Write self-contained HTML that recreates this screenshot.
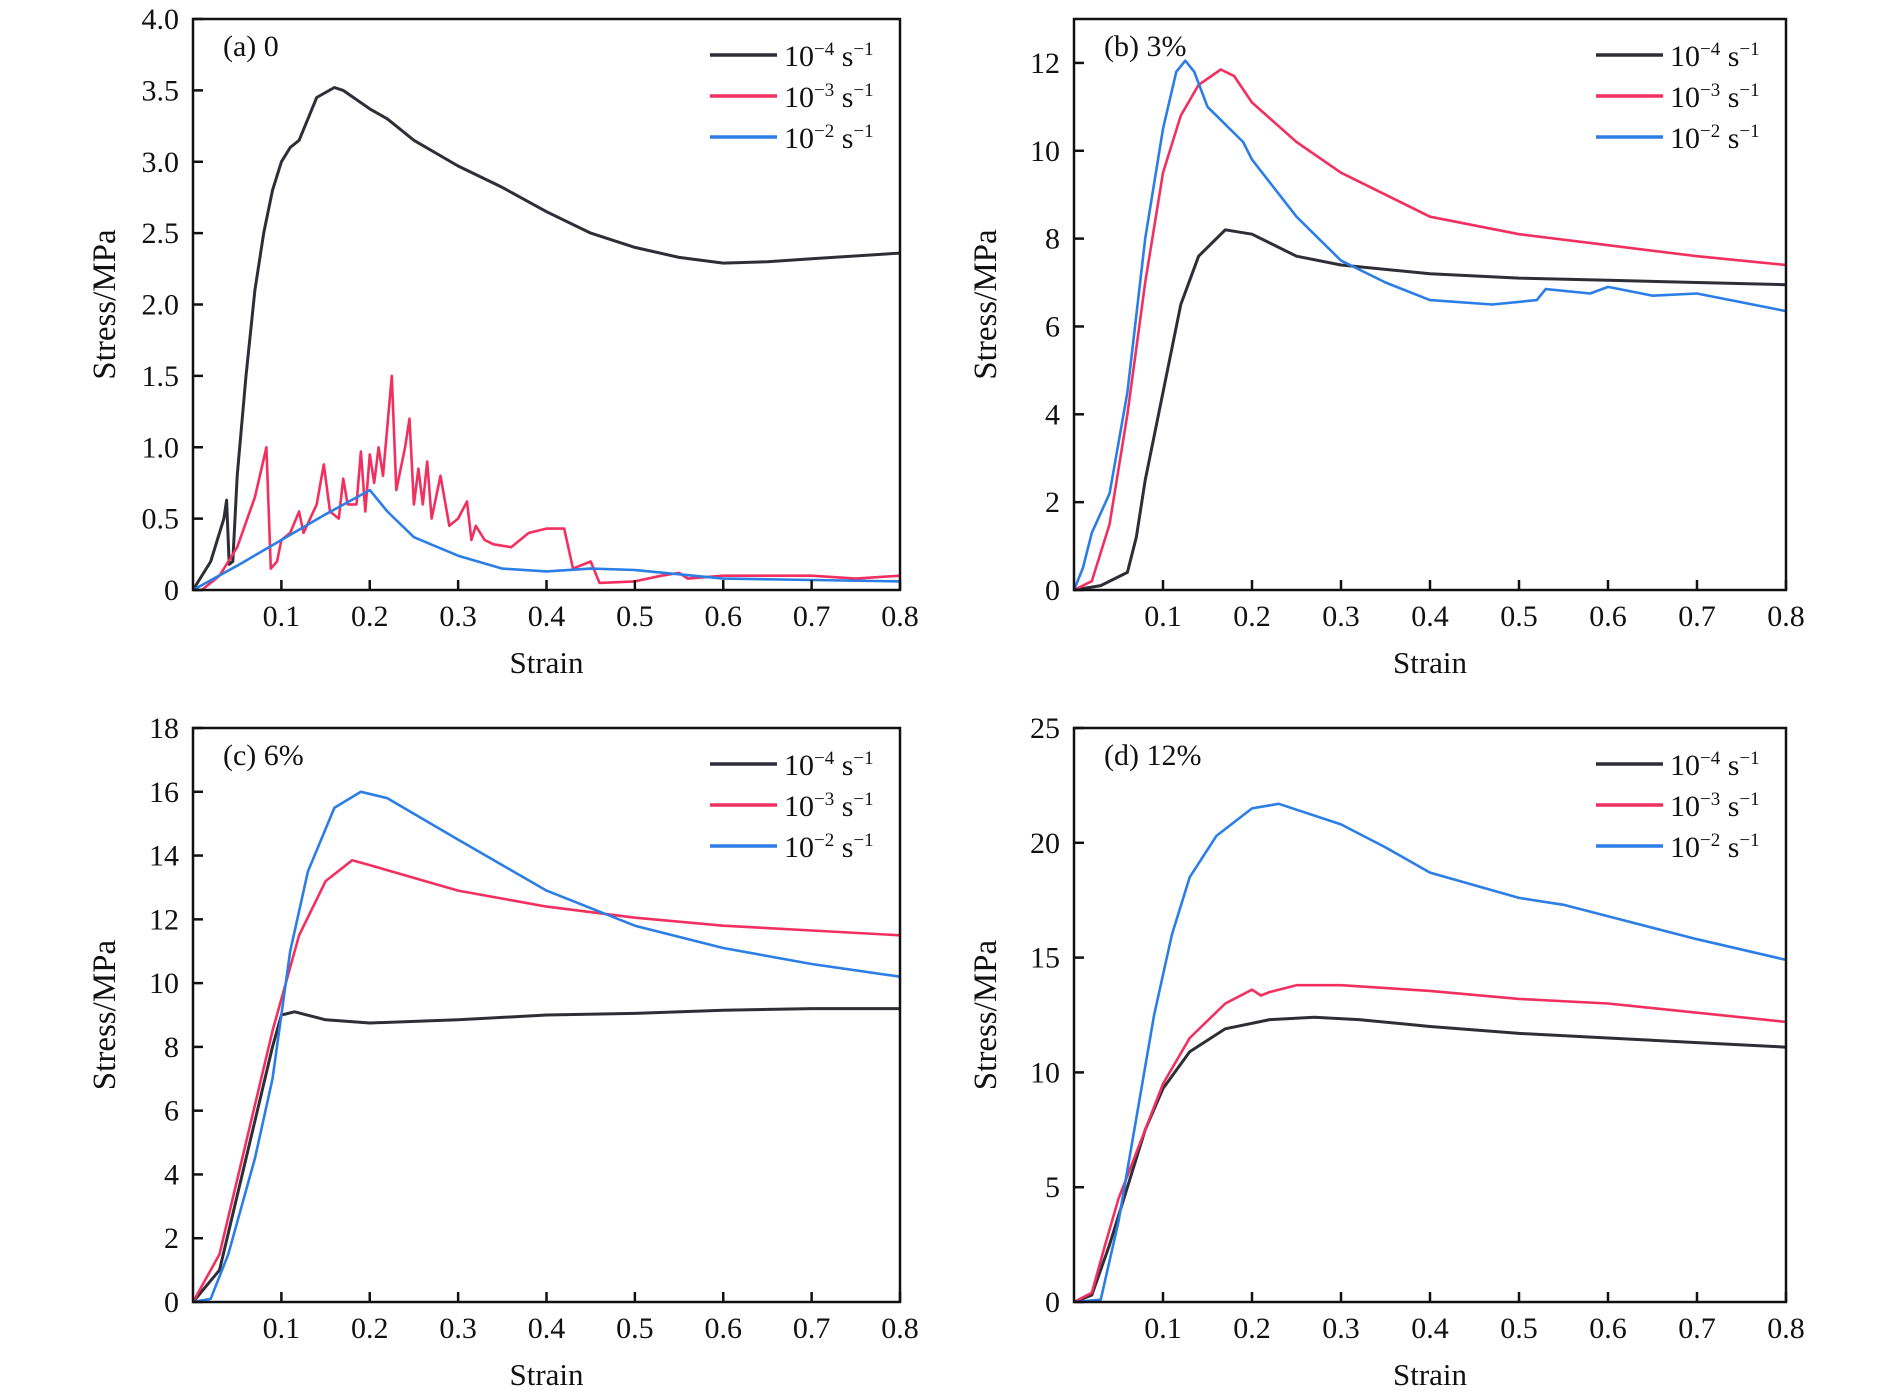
<!DOCTYPE html>
<html><head><meta charset="utf-8"><style>
html,body{margin:0;padding:0;background:#fff;}
svg{display:block;font-family:"Liberation Serif",serif;}
</style></head><body>
<svg id="fig" width="1890" height="1393" viewBox="0 0 1890 1393" xmlns="http://www.w3.org/2000/svg"></svg>
<script>
// ---- data ----
const xTicks = [0.1,0.2,0.3,0.4,0.5,0.6,0.7,0.8];
const legendLabels = ["-4","-3","-2"];
const panelLabels = ["(a) 0","(b) 3%","(c) 6%","(d) 12%"];
const yTicksA = [0,0.5,1.0,1.5,2.0,2.5,3.0,3.5,4.0];
const yTickTextA = ["0","0.5","1.0","1.5","2.0","2.5","3.0","3.5","4.0"];
const yTicksB = [0,2,4,6,8,10,12];
const yTicksC = [0,2,4,6,8,10,12,14,16,18];
const yTicksD = [0,5,10,15,20,25];
const yMaxes = [4.0,13,18,25];

const a_slow = [[0,0],[0.02,0.2],[0.035,0.5],[0.038,0.63],[0.041,0.18],[0.045,0.2],[0.05,0.8],[0.06,1.5],[0.07,2.1],[0.08,2.5],[0.09,2.8],[0.1,3.0],[0.11,3.1],[0.12,3.15],[0.13,3.3],[0.14,3.45],[0.16,3.52],[0.17,3.5],[0.2,3.37],[0.22,3.3],[0.25,3.15],[0.3,2.97],[0.35,2.82],[0.4,2.65],[0.45,2.5],[0.5,2.4],[0.55,2.33],[0.6,2.29],[0.65,2.3],[0.7,2.32],[0.8,2.36]];
const a_mid = [[0,0],[0.01,0],[0.03,0.1],[0.05,0.3],[0.07,0.65],[0.083,1.0],[0.088,0.15],[0.095,0.2],[0.1,0.35],[0.11,0.4],[0.12,0.55],[0.125,0.4],[0.14,0.6],[0.148,0.88],[0.155,0.55],[0.165,0.5],[0.17,0.78],[0.175,0.6],[0.185,0.6],[0.19,0.97],[0.195,0.55],[0.2,0.95],[0.205,0.75],[0.21,1.0],[0.215,0.8],[0.225,1.5],[0.23,0.7],[0.24,1.0],[0.245,1.2],[0.25,0.6],[0.255,0.85],[0.26,0.6],[0.265,0.9],[0.27,0.5],[0.28,0.8],[0.29,0.45],[0.3,0.5],[0.31,0.62],[0.315,0.35],[0.32,0.45],[0.33,0.35],[0.34,0.32],[0.36,0.3],[0.38,0.4],[0.4,0.43],[0.42,0.43],[0.43,0.15],[0.45,0.2],[0.46,0.05],[0.5,0.06],[0.53,0.1],[0.55,0.12],[0.56,0.08],[0.6,0.1],[0.7,0.1],[0.75,0.08],[0.8,0.1]];
const a_fast = [[0,0],[0.05,0.17],[0.1,0.35],[0.15,0.53],[0.2,0.7],[0.22,0.55],[0.25,0.37],[0.3,0.24],[0.35,0.15],[0.4,0.13],[0.45,0.15],[0.5,0.14],[0.55,0.11],[0.6,0.08],[0.7,0.07],[0.8,0.06]];

const b_slow = [[0,0],[0.03,0.1],[0.06,0.4],[0.07,1.2],[0.08,2.5],[0.1,4.5],[0.12,6.5],[0.14,7.6],[0.17,8.2],[0.2,8.1],[0.25,7.6],[0.3,7.4],[0.4,7.2],[0.5,7.1],[0.6,7.05],[0.7,7.0],[0.8,6.95]];
const b_mid = [[0,0],[0.02,0.2],[0.04,1.5],[0.06,4],[0.08,7],[0.1,9.5],[0.12,10.8],[0.14,11.5],[0.165,11.85],[0.18,11.7],[0.2,11.1],[0.25,10.2],[0.3,9.5],[0.4,8.5],[0.5,8.1],[0.6,7.85],[0.7,7.6],[0.8,7.4]];
const b_fast = [[0,0],[0.01,0.5],[0.02,1.3],[0.04,2.2],[0.06,4.5],[0.08,8],[0.1,10.5],[0.115,11.8],[0.125,12.05],[0.135,11.8],[0.15,11],[0.19,10.2],[0.2,9.8],[0.25,8.5],[0.3,7.5],[0.35,7],[0.4,6.6],[0.47,6.5],[0.52,6.6],[0.53,6.85],[0.58,6.75],[0.6,6.9],[0.65,6.7],[0.7,6.75],[0.8,6.35]];

const c_slow = [[0,0],[0.03,1],[0.06,4.5],[0.09,8],[0.1,9],[0.115,9.1],[0.15,8.85],[0.2,8.75],[0.3,8.85],[0.4,9.0],[0.5,9.05],[0.6,9.15],[0.7,9.2],[0.8,9.2]];
const c_mid = [[0,0],[0.03,1.5],[0.06,5],[0.09,8.5],[0.12,11.5],[0.15,13.2],[0.18,13.85],[0.2,13.7],[0.25,13.3],[0.3,12.9],[0.4,12.4],[0.5,12.05],[0.6,11.8],[0.7,11.65],[0.8,11.5]];
const c_fast = [[0,0],[0.02,0.1],[0.04,1.5],[0.07,4.5],[0.09,7],[0.11,11],[0.13,13.5],[0.16,15.5],[0.19,16],[0.22,15.8],[0.3,14.5],[0.4,12.9],[0.5,11.8],[0.6,11.1],[0.7,10.6],[0.8,10.2]];

const d_slow = [[0,0],[0.02,0.3],[0.04,2.5],[0.06,5],[0.08,7.5],[0.1,9.3],[0.13,10.9],[0.17,11.9],[0.22,12.3],[0.27,12.4],[0.32,12.3],[0.4,12.0],[0.5,11.7],[0.6,11.5],[0.7,11.3],[0.8,11.1]];
const d_mid = [[0,0],[0.02,0.4],[0.035,2.5],[0.05,4.5],[0.08,7.5],[0.1,9.5],[0.13,11.5],[0.17,13],[0.2,13.6],[0.21,13.35],[0.22,13.5],[0.25,13.8],[0.3,13.8],[0.4,13.55],[0.5,13.2],[0.6,13.0],[0.7,12.6],[0.8,12.2]];
const d_fast = [[0,0],[0.03,0.1],[0.05,3.5],[0.07,8],[0.09,12.5],[0.11,16],[0.13,18.5],[0.16,20.3],[0.2,21.5],[0.23,21.7],[0.3,20.8],[0.35,19.8],[0.4,18.7],[0.5,17.6],[0.55,17.3],[0.6,16.8],[0.7,15.8],[0.8,14.9]];

// ---- drawing ----
const NS="http://www.w3.org/2000/svg";
const svg=document.getElementById('fig');
const colors=["#2e2e36","#f23060","#2b7ee6"];
function mk(tag,attrs,parent){const e=document.createElementNS(NS,tag);for(const k in attrs)e.setAttribute(k,attrs[k]);(parent||svg).appendChild(e);return e;}
const boxes=[{L:193,R:900,T:19,B:590},{L:1074,R:1786,T:19,B:590},{L:193,R:900,T:728,B:1302},{L:1074,R:1786,T:728,B:1302}];
const yTickSets=[yTicksA,yTicksB,yTicksC,yTicksD];
const seriesSets=[[a_slow,a_mid,a_fast],[b_slow,b_mid,b_fast],[c_slow,c_mid,c_fast],[d_slow,d_mid,d_fast]];
const panelNames=["panel-a","panel-b","panel-c","panel-d"];
const rateNames=["slow","mid","fast"];
boxes.forEach((bx,pi)=>{
  const g=mk('g',{});
  
  
  const xs=v=>bx.L+v/0.8*(bx.R-bx.L);
  const ys=v=>bx.B-v/yMaxes[pi]*(bx.B-bx.T);
  seriesSets[pi].forEach((s,si)=>{
    const p=mk('polyline',{points:s.map(d=>xs(d[0]).toFixed(1)+','+ys(d[1]).toFixed(1)).join(' '),fill:'none',stroke:colors[si],'stroke-width':si==0?3:2.6,'stroke-linejoin':'round'},g);
    
    
  });
  const fr=mk('rect',{x:bx.L,y:bx.T,width:bx.R-bx.L,height:bx.B-bx.T,fill:'none',stroke:'#111','stroke-width':2.5},g);
  
  
  xTicks.forEach(t=>{
    const x=xs(t);
    mk('line',{x1:x,x2:x,y1:bx.B,y2:bx.B-10,stroke:'#111','stroke-width':2.5},g);
    const tx=mk('text',{x:x,y:bx.B+36,'text-anchor':'middle','font-size':30,fill:'#111'},g);
    tx.textContent=String(t);
    
    
  });
  yTickSets[pi].forEach((t,ti)=>{
    const y=ys(t);
    mk('line',{x1:bx.L,x2:bx.L+10,y1:y,y2:y,stroke:'#111','stroke-width':2.5},g);
    const tx=mk('text',{x:bx.L-14,y:y+10,'text-anchor':'end','font-size':30,fill:'#111'},g);
    tx.textContent=pi==0?yTickTextA[ti]:String(t);
    
    
  });
  const xt=mk('text',{x:(bx.L+bx.R)/2,y:bx.B+83,'text-anchor':'middle','font-size':31,fill:'#111'},g);
  xt.textContent='Strain';
  
  
  const cy=(bx.T+bx.B)/2, cx=bx.L-78;
  const yt=mk('text',{x:cx,y:cy,'text-anchor':'middle','font-size':33,fill:'#111',transform:`rotate(-90 ${cx} ${cy})`},g);
  yt.textContent='Stress/MPa';
  
  
  const pl=mk('text',{x:bx.L+30,y:bx.T+37,'font-size':30,fill:'#111'},g);
  pl.textContent=panelLabels[pi];
  
  
  legendLabels.forEach((lab,li)=>{
    const y=bx.T+36+li*41;
    const lg=mk('g',{},g);
    
    
    mk('line',{x1:bx.R-190,x2:bx.R-123,y1:y,y2:y,stroke:colors[li],'stroke-width':3.5},lg);
    const t=mk('text',{x:bx.R-116,y:y+11,'font-size':30,fill:'#111'},lg);
    t.innerHTML='10<tspan dy="-11" font-size="19">\u2212'+lab.slice(1)+'</tspan><tspan dy="11"> s</tspan><tspan dy="-11" font-size="19">\u22121</tspan>';
  });
});
</script>
</body></html>
